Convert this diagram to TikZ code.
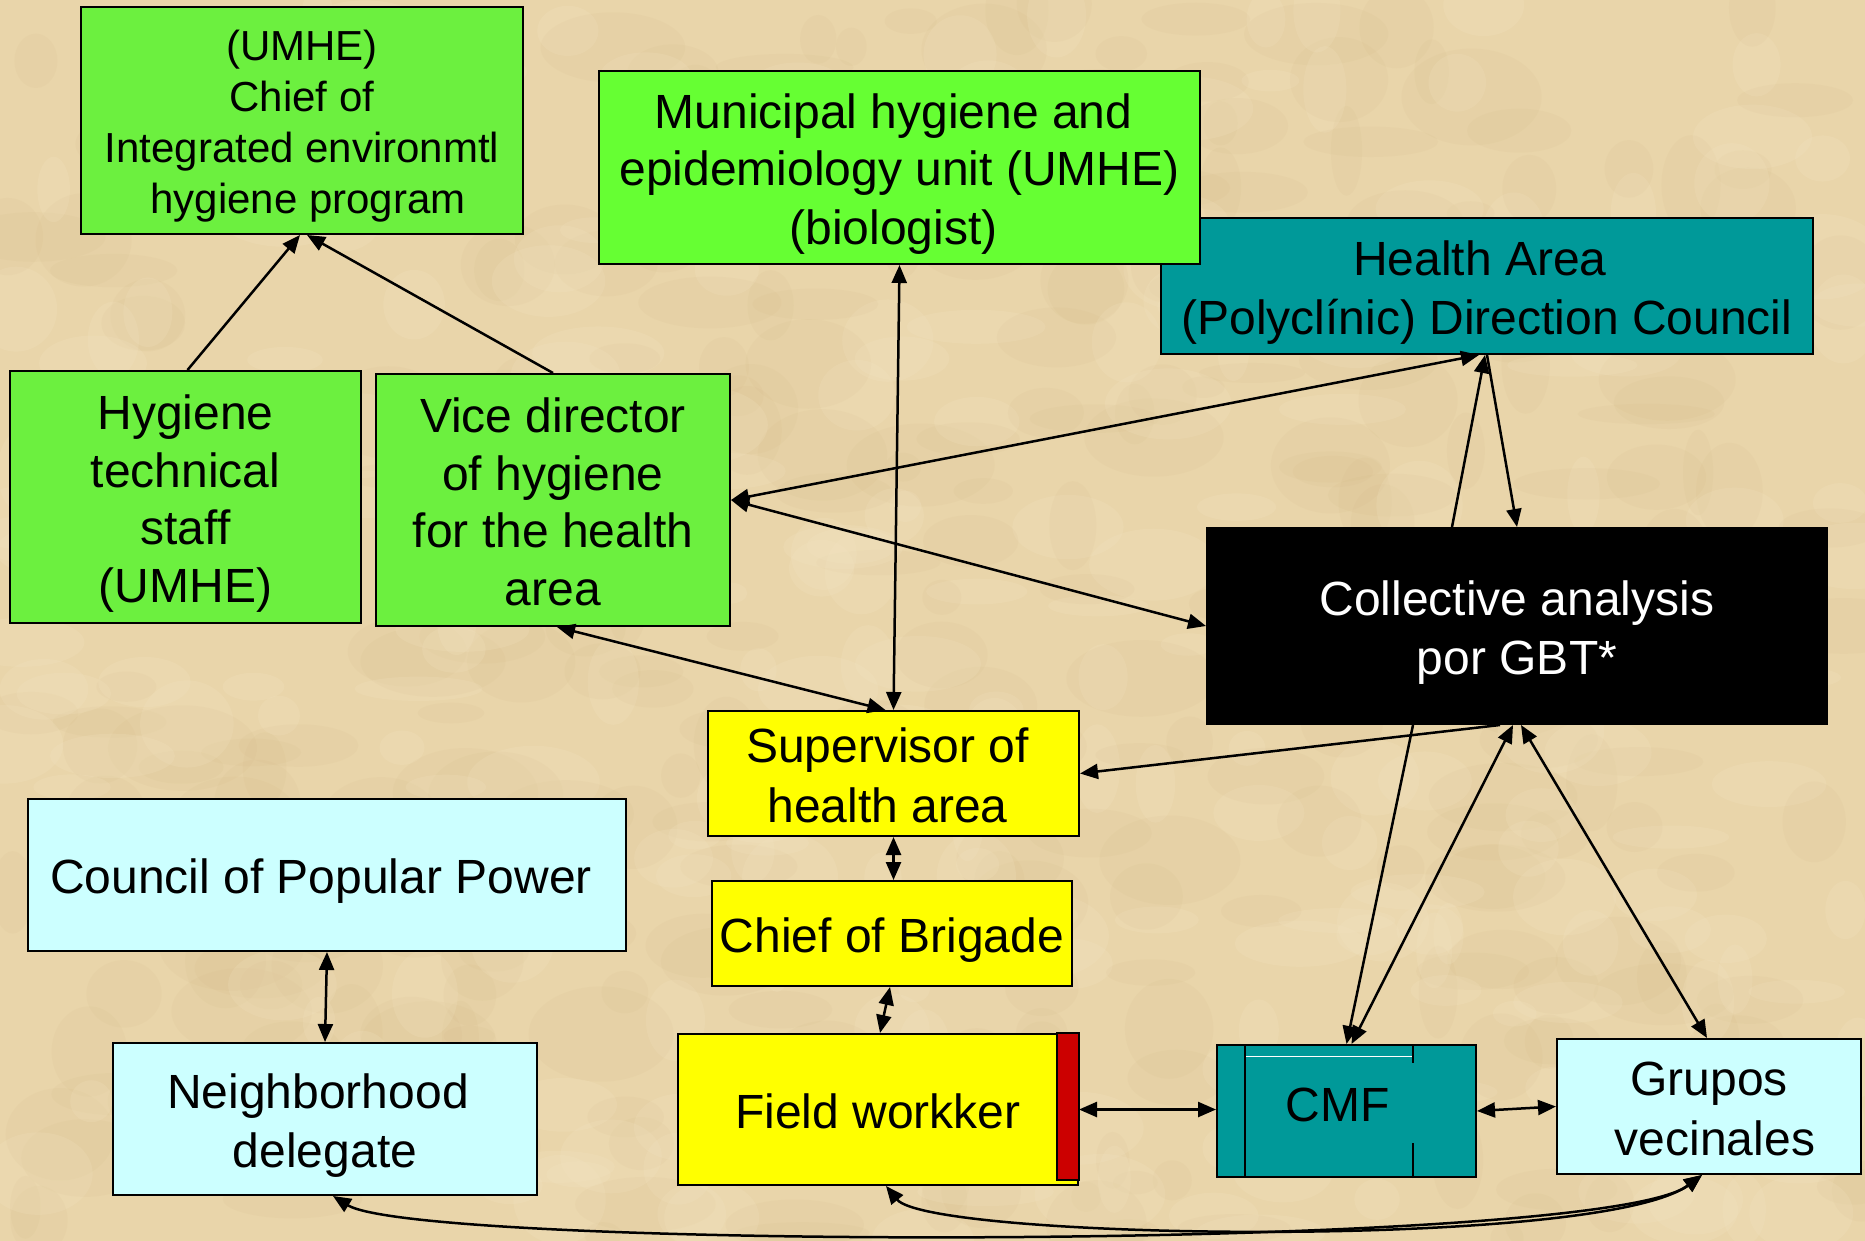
\documentclass[tikz,border=0pt]{standalone}
\usepackage{fontspec}
\setmainfont{Liberation Sans}
\usetikzlibrary{arrows.meta,calc}

\definecolor{paper}{HTML}{E9D5AA}
\definecolor{paperlight}{HTML}{F5E7C6}
\definecolor{paperdark}{HTML}{D2B784}
\definecolor{boxgreen}{HTML}{66FF33}
\definecolor{boxgreenb}{HTML}{6CF03F}
\definecolor{boxteal}{HTML}{009999}
\definecolor{boxyellow}{HTML}{FFFF00}
\definecolor{boxcyan}{HTML}{CCFFFF}
\definecolor{boxred}{HTML}{CC0000}

% line-box strut: fixed ascent and descent for first and last lines
\newcommand{\lnstrut}{\rule[-0.21em]{0pt}{1.21em}}

\begin{document}
\begin{tikzpicture}[x=1pt,y=-1pt,
  box/.style={draw=black, line width=2pt, rectangle, inner sep=0pt,
    align=center, font=\fontsize{48}{57.6}\selectfont},
  smallbox/.style={box, font=\fontsize{42}{51}\selectfont},
  conn/.style={line width=2.5pt, draw=black},
  both/.style={conn, {Triangle[length=18pt,width=15pt]}-{Triangle[length=18pt,width=15pt]}},
  fwd/.style={conn, -{Triangle[length=18pt,width=15pt]}}
]
% page and parchment background
\useasboundingbox (0,0) rectangle (1865,1241);
\fill[paper] (0,0) rectangle (1865,1241);
\begin{scope}
  \clip (0,0) rectangle (1865,1241);
  \pgfmathsetseed{7}
  \foreach \i in {1,...,320}{
    \pgfmathsetmacro{\px}{rnd*1865}
    \pgfmathsetmacro{\py}{rnd*1241}
    \pgfmathsetmacro{\rx}{15+rnd*60}
    \pgfmathsetmacro{\ry}{10+rnd*40}
    \fill[paperdark, opacity=0.10] (\px,\py) ellipse ({\rx pt} and {\ry pt});
  }
  \foreach \i in {1,...,260}{
    \pgfmathsetmacro{\px}{rnd*1865}
    \pgfmathsetmacro{\py}{rnd*1241}
    \pgfmathsetmacro{\rx}{15+rnd*55}
    \pgfmathsetmacro{\ry}{10+rnd*35}
    \fill[paperlight, opacity=0.18] (\px,\py) ellipse ({\rx pt} and {\ry pt});
  }
\end{scope}

% boxes
\node[smallbox, fill=boxgreenb, minimum width=442pt, minimum height=227pt] (chief) at (302,120.5)
  {\lnstrut(UMHE)\\Chief of\hspace*{24pt}\\Integrated environmtl\\\hspace*{12pt}\lnstrut hygiene program};
\node[box, fill=boxteal, minimum width=652pt, minimum height=136pt] (harea) at (1487,286)
  {\lnstrut Health Area\hspace*{14pt}\\\lnstrut(Polyclínic) Direction Council};
\node[box, fill=boxgreen, minimum width=601pt, minimum height=193pt] (muni) at (899.5,167.5)
  {\lnstrut Municipal hygiene and\hspace*{12pt}\\epidemiology unit (UMHE)\\\lnstrut(biologist)\hspace*{12pt}};
\node[box, fill=boxgreenb, minimum width=351pt, minimum height=252pt] (htech) at (185.5,497)
  {\lnstrut Hygiene\\technical\\staff\\\lnstrut(UMHE)};
\node[box, fill=boxgreenb, minimum width=354pt, minimum height=252pt] (vice) at (553,500)
  {\lnstrut Vice director\\of hygiene\\for the health\\\lnstrut area};
\node[box, fill=black, text=white, minimum width=620pt, minimum height=196pt] (coll) at (1517,626)
  {\lnstrut Collective analysis\\\lnstrut por GBT*};
\node[box, fill=boxyellow, minimum width=371pt, minimum height=125pt] (sup) at (893.5,773.5)
  {\lnstrut Supervisor of\hspace*{12pt}\\\lnstrut health area\hspace*{12pt}};
\node[box, fill=boxcyan, minimum width=598pt, minimum height=152pt] (council) at (327,875)
  {\lnstrut Council of Popular Power\hspace*{12pt}};
\node[box, fill=boxyellow, minimum width=360pt, minimum height=105pt] (brig) at (892,933.5)
  {\lnstrut Chief of Brigade};
\node[box, fill=boxcyan, minimum width=424pt, minimum height=152pt] (neigh) at (325,1119)
  {\lnstrut Neighborhood\hspace*{14pt}\\\lnstrut delegate};
\node[box, fill=boxyellow, minimum width=400pt, minimum height=151pt] (field) at (878,1109.5)
  {\lnstrut Field workker};
\node[box, fill=boxteal, minimum width=259pt, minimum height=132pt] (cmf) at (1346.5,1111)
  {\rule[-12pt]{0pt}{0pt}CMF\hspace*{18pt}};
\node[box, fill=boxcyan, minimum width=304pt, minimum height=135pt] (grupos) at (1709,1106.5)
  {\lnstrut Grupos\\\hspace*{12pt}\lnstrut vecinales};

% red strip on the field worker box
\draw[line width=2pt, fill=boxred] ([xshift=-22pt]field.north east) rectangle ([yshift=6pt]field.south east);

% inner partitions of the CMF box
\draw[line width=2pt] ([xshift=29pt]cmf.north west) -- ([xshift=29pt]cmf.south west);
\draw[line width=2pt] ([xshift=197pt]cmf.north west) -- ([xshift=197pt,yshift=-19pt]cmf.north west);
\draw[line width=2pt] ([xshift=197pt]cmf.south west) -- ([xshift=197pt,yshift=35pt]cmf.south west);
\draw[line width=1pt, white] ([xshift=30pt,yshift=-12pt]cmf.north west) -- ([xshift=196pt,yshift=-12pt]cmf.north west);

% connectors
\draw[fwd] ([xshift=2pt]htech.north) -- ([xshift=-2pt]chief.south);
\draw[fwd] (vice.north) -- ([xshift=5pt]chief.south);
\draw[both] (muni.south) -- (sup.north);
\draw[both] ([xshift=-8pt]harea.south) -- (vice.east);
\draw[both] (vice.east) -- (coll.west);
\draw[fwd] ([xshift=-65pt]coll.north) -- ([xshift=-2pt]harea.south);
\draw[fwd] (harea.south) -- (coll.north);
\draw[both] ([xshift=4pt]vice.south) -- ([xshift=-8pt]sup.north);
\draw[fwd] ([xshift=-17pt]coll.south) -- (sup.east);
\draw[fwd] ([xshift=-104pt]coll.south) -- (cmf.north);
\draw[both] ([xshift=5pt]cmf.north) -- ([xshift=-4pt]coll.south);
\draw[both] ([xshift=4pt]coll.south) -- ([xshift=-2pt]grupos.north);
\draw[both] (sup.south) -- (sup.south |- brig.north);
\draw[both] ([xshift=-2pt]brig.south) -- ([xshift=2pt]field.north);
\draw[both] (field.east) -- (field.east -| cmf.west);
\draw[both] (cmf.east) -- (grupos.west);
\draw[both] (council.south) -- (neigh.north);
\draw[both] ([xshift=8pt]neigh.south) .. controls (420,1250) and (1600,1252) .. ([xshift=-7pt]grupos.south);
\draw[both] ([xshift=8pt]field.south) .. controls (930,1240) and (1600,1250) .. ([xshift=-7pt]grupos.south);
\end{tikzpicture}
\end{document}
